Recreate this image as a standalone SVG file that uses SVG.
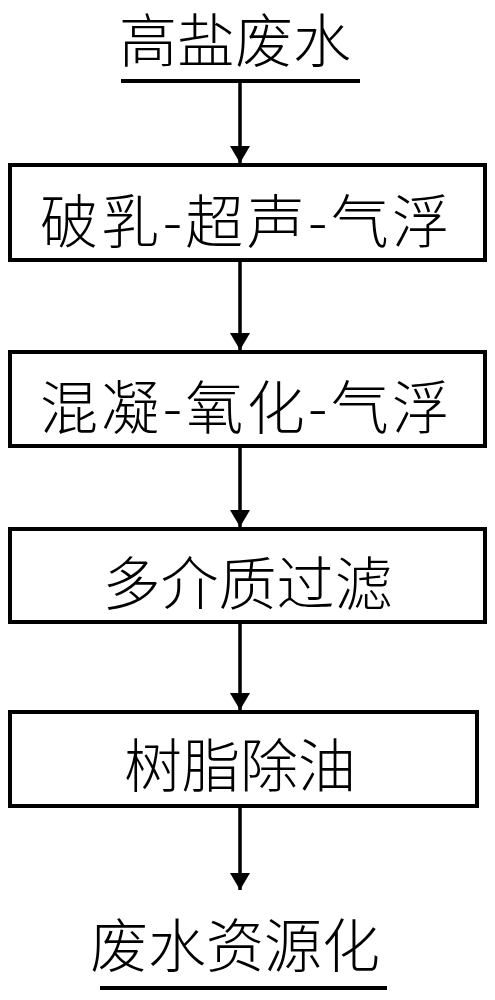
<svg xmlns="http://www.w3.org/2000/svg" width="495" height="1000" viewBox="0 0 495 1000">
<style>
.box{fill:#fff;stroke:#000;stroke-width:4}
.lbl{font-family:"Noto Sans CJK SC","Noto Sans",sans-serif;font-size:58px;font-weight:300;fill:#000;text-anchor:middle;dominant-baseline:central}
.ln{stroke:#000;stroke-width:4;fill:none}
.conn{stroke:#000;stroke-width:3.5;fill:none}
</style>
<defs>
<marker id="ah" viewBox="0 0 17 20" refX="17" refY="10" markerWidth="17" markerHeight="20" markerUnits="userSpaceOnUse" orient="auto">
<path d="M0,0 L17,10 L0,20 Z" fill="#000"/>
</marker>
</defs>
<rect width="495" height="1000" fill="#fff"/>
<g id="start">
<text class="lbl" x="235" y="37">高盐废水</text>
<line class="ln" x1="121" y1="81" x2="360" y2="81"/>
</g>
<g id="n1">
<rect class="box" x="10" y="165" width="475" height="95"/>
<text class="lbl" x="245" y="218" textLength="410" lengthAdjust="spacing">破乳-超声-气浮</text>
</g>
<g id="n2">
<rect class="box" x="10" y="352" width="475" height="94"/>
<text class="lbl" x="245" y="404" textLength="410" lengthAdjust="spacing">混凝-氧化-气浮</text>
</g>
<g id="n3">
<rect class="box" x="10" y="529" width="475" height="93"/>
<text class="lbl" x="247.5" y="580">多介质过滤</text>
</g>
<g id="n4">
<rect class="box" x="10" y="712" width="467" height="94"/>
<text class="lbl" x="240" y="762">树脂除油</text>
</g>
<g id="end">
<text class="lbl" x="235" y="942">废水资源化</text>
<line class="ln" x1="100" y1="988" x2="387" y2="988"/>
</g>
<g id="connectors">
<line class="conn" x1="240" y1="81" x2="240" y2="163" marker-end="url(#ah)"/>
<line class="conn" x1="240" y1="260" x2="240" y2="350" marker-end="url(#ah)"/>
<line class="conn" x1="240" y1="446" x2="240" y2="527" marker-end="url(#ah)"/>
<line class="conn" x1="240" y1="622" x2="240" y2="710" marker-end="url(#ah)"/>
<line class="conn" x1="240" y1="806" x2="240" y2="890" marker-end="url(#ah)"/>
</g>
</svg>
